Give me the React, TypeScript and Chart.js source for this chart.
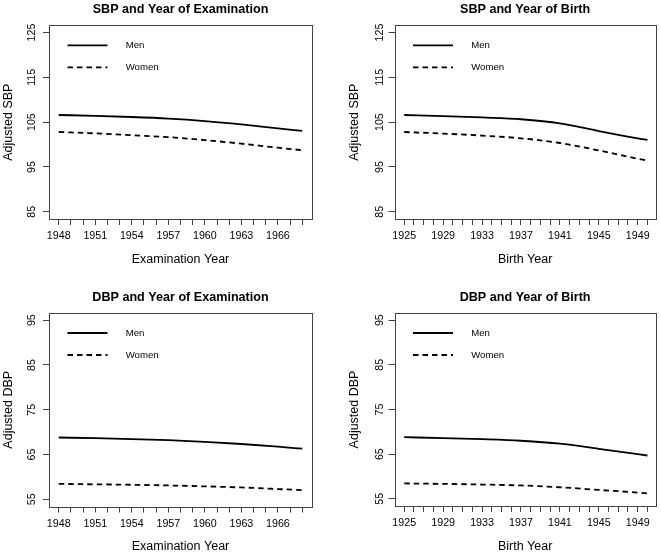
import React, { useEffect, useRef } from "react";
import { Chart, registerables } from "chart.js";

Chart.register(...registerables);

const FONT = "'Liberation Sans', Arial, Helvetica, sans-serif";

// ---- data ----
const examYears = [1948, 1951, 1954, 1957, 1960, 1963, 1966, 1968];
const birthYears = [1925, 1929, 1933, 1937, 1941, 1945, 1949, 1950];

const sbpExamMen = [106.6, 106.4, 106.15, 105.8, 105.25, 104.5, 103.6, 103.05];
const sbpExamWomen = [102.8, 102.5, 102.1, 101.65, 101.0, 100.2, 99.3, 98.75];
const sbpBirthMen = [106.6, 106.35, 106.05, 105.65, 104.75, 103.0, 101.4, 101.05];
const sbpBirthWomen = [102.8, 102.45, 102.0, 101.4, 100.35, 98.7, 96.85, 96.45];
const dbpExamMen = [68.8, 68.65, 68.45, 68.2, 67.85, 67.35, 66.75, 66.3];
const dbpExamWomen = [58.45, 58.35, 58.25, 58.1, 57.9, 57.65, 57.3, 57.05];
const dbpBirthMen = [68.8, 68.6, 68.35, 68.0, 67.35, 66.2, 65.0, 64.7];
const dbpBirthWomen = [58.45, 58.35, 58.2, 58.0, 57.6, 57.0, 56.4, 56.2];

const examTickYears = [1948, 1949, 1950, 1951, 1952, 1953, 1954, 1955, 1956, 1957, 1958, 1959, 1960, 1961, 1962, 1963, 1964, 1965, 1966, 1967, 1968];
const examLabelYears = [1948, 1951, 1954, 1957, 1960, 1963, 1966];
const birthTickYears = [1925, 1926, 1927, 1928, 1929, 1930, 1931, 1932, 1933, 1934, 1935, 1936, 1937, 1938, 1939, 1940, 1941, 1942, 1943, 1944, 1945, 1946, 1947, 1948, 1949, 1950];
const birthLabelYears = [1925, 1929, 1933, 1937, 1941, 1945, 1949];
const sbpTicks = [85, 95, 105, 115, 125];
const dbpTicks = [55, 65, 75, 85, 95];

const seriesLabels = ["Men", "Women"];

type PanelCfg = {
  title: string;
  xTitle: string;
  yTitle: string;
  rect: [number, number, number, number];
  box: [number, number, number, number];
  xRange: [number, number];
  yRange: [number, number];
  xTicks: number[];
  xLabels: number[];
  yTicks: number[];
  xs: number[];
  men: number[];
  women: number[];
  yLabelGap: number;
};

const panels: PanelCfg[] = [
  {
    title: "SBP and Year of Examination", xTitle: "Examination Year", yTitle: "Adjusted SBP",
    rect: [0, 0, 330, 277], box: [49, 25.3, 312, 219],
    xRange: [1947.2, 1968.8], yRange: [83.4, 126.6],
    xTicks: examTickYears, xLabels: examLabelYears, yTicks: sbpTicks,
    xs: examYears, men: sbpExamMen, women: sbpExamWomen, yLabelGap: 17.3,
  },
  {
    title: "SBP and Year of Birth", xTitle: "Birth Year", yTitle: "Adjusted SBP",
    rect: [330, 0, 331, 277], box: [64.5, 25.3, 325.7, 219],
    xRange: [1924.0, 1950.85], yRange: [83.4, 126.6],
    xTicks: birthTickYears, xLabels: birthLabelYears, yTicks: sbpTicks,
    xs: birthYears, men: sbpBirthMen, women: sbpBirthWomen, yLabelGap: 14,
  },
  {
    title: "DBP and Year of Examination", xTitle: "Examination Year", yTitle: "Adjusted DBP",
    rect: [0, 277, 330, 277], box: [49, 36, 312, 229.5],
    xRange: [1947.2, 1968.8], yRange: [53.4, 96.6],
    xTicks: examTickYears, xLabels: examLabelYears, yTicks: dbpTicks,
    xs: examYears, men: dbpExamMen, women: dbpExamWomen, yLabelGap: 17.3,
  },
  {
    title: "DBP and Year of Birth", xTitle: "Birth Year", yTitle: "Adjusted DBP",
    rect: [330, 277, 331, 277], box: [64.5, 36, 325.7, 229],
    xRange: [1924.0, 1950.85], yRange: [53.4, 96.6],
    xTicks: birthTickYears, xLabels: birthLabelYears, yTicks: dbpTicks,
    xs: birthYears, men: dbpBirthMen, women: dbpBirthWomen, yLabelGap: 14,
  },
];

const rStylePlugin = {
  id: "rstyle",
  afterDraw(chart: any, _args: any, opts: any) {
    const { ctx, chartArea: a, scales } = chart;
    ctx.save();
    // box
    ctx.strokeStyle = "#444";
    ctx.lineWidth = 1;
    ctx.setLineDash([]);
    ctx.strokeRect(
      Math.round(a.left) + 0.5,
      Math.round(a.top) + 0.5,
      Math.round(a.right) - Math.round(a.left),
      Math.round(a.bottom) - Math.round(a.top)
    );
    // rotated y tick labels
    const ys = scales.y;
    ctx.fillStyle = "#000";
    ctx.font = `10.7px ${FONT}`;
    ctx.textAlign = "center";
    ctx.textBaseline = "middle";
    for (const t of ys.ticks) {
      const py = ys.getPixelForValue(t.value);
      ctx.save();
      ctx.translate(a.left - opts.yLabelGap, py);
      ctx.rotate(-Math.PI / 2);
      ctx.fillText(String(t.value), 0, 0);
      ctx.restore();
    }
    // legend (top-left, no box)
    chart.data.datasets.forEach((ds: any, i: number) => {
      const ly = a.top + 20 + i * 22;
      ctx.beginPath();
      ctx.setLineDash(ds.borderDash || []);
      ctx.lineWidth = ds.borderWidth;
      ctx.strokeStyle = ds.borderColor;
      ctx.moveTo(a.left + 18.5, ly);
      ctx.lineTo(a.left + 58.5, ly);
      ctx.stroke();
      ctx.setLineDash([]);
      ctx.font = `9.6px ${FONT}`;
      ctx.textAlign = "left";
      ctx.textBaseline = "middle";
      ctx.fillStyle = "#000";
      ctx.fillText(ds.label, a.left + 76.7, ly + 0.5);
    });
    ctx.restore();
  },
};

function Panel({ cfg }: { cfg: PanelCfg }) {
  const ref = useRef<HTMLCanvasElement | null>(null);
  useEffect(() => {
    if (!ref.current) return;
    const [bl, bt, br, bb] = cfg.box;
    const W = cfg.rect[2];
    const H = cfg.rect[3];
    const titleSize = 12.6;
    const titleLH = titleSize * 1.2;
    const titleCenter = bt - 15.8;
    const axisTitleLH = 12.5 * 1.2;
    const gridOpts = { drawOnChartArea: false, drawTicks: true, tickLength: 6, color: "#444", lineWidth: 1 };
    const chart = new Chart(ref.current, {
      type: "line",
      data: {
        datasets: [
          {
            label: seriesLabels[0],
            data: cfg.xs.map((x, i) => ({ x, y: cfg.men[i] })),
            borderColor: "#000",
            borderWidth: 1.8,
            pointRadius: 0,
            fill: false,
            cubicInterpolationMode: "monotone",
          },
          {
            label: seriesLabels[1],
            data: cfg.xs.map((x, i) => ({ x, y: cfg.women[i] })),
            borderColor: "#000",
            borderWidth: 1.8,
            borderDash: [5.5, 4],
            pointRadius: 0,
            fill: false,
            cubicInterpolationMode: "monotone",
          },
        ],
      },
      options: {
        responsive: false,
        animation: false,
        devicePixelRatio: 1,
        layout: { padding: { left: 0, top: 0, right: W - br, bottom: 0 } },
        plugins: {
          legend: { display: false },
          tooltip: { enabled: false },
          title: {
            display: true,
            text: cfg.title,
            fullSize: false,
            color: "#000",
            font: { family: FONT, size: titleSize, weight: "bold", lineHeight: 1.2 },
            padding: { top: titleCenter - titleLH / 2, bottom: bt - titleCenter - titleLH / 2 },
          },
          rstyle: { yLabelGap: cfg.yLabelGap },
        } as any,
        scales: {
          x: {
            type: "linear",
            position: "bottom",
            min: cfg.xRange[0],
            max: cfg.xRange[1],
            afterBuildTicks: (s: any) => {
              s.ticks = cfg.xTicks.map((v) => ({ value: v }));
            },
            afterFit: (s: any) => {
              s.height = H - bb;
            },
            grid: gridOpts,
            border: { display: false },
            ticks: {
              autoSkip: false,
              maxRotation: 0,
              minRotation: 0,
              padding: 4.8,
              color: "#000",
              font: { family: FONT, size: 10.7, lineHeight: 1.2 },
              callback: (v: any) => (cfg.xLabels.includes(Number(v)) ? String(v) : ""),
            },
            title: {
              display: true,
              text: cfg.xTitle,
              color: "#000",
              font: { family: FONT, size: 12.5, lineHeight: 1.2 },
              padding: { top: 0, bottom: Math.max(0, H - axisTitleLH / 2 - (bb + 40.7)) },
            },
          },
          y: {
            type: "linear",
            position: "left",
            min: cfg.yRange[0],
            max: cfg.yRange[1],
            afterBuildTicks: (s: any) => {
              s.ticks = cfg.yTicks.map((v) => ({ value: v }));
            },
            afterFit: (s: any) => {
              s.width = bl;
            },
            grid: gridOpts,
            border: { display: false },
            ticks: { display: false },
            title: {
              display: true,
              text: cfg.yTitle,
              color: "#000",
              font: { family: FONT, size: 12.5, lineHeight: 1.2 },
              padding: { top: bl - 40 - axisTitleLH / 2, bottom: 0 },
            },
          },
        },
      } as any,
      plugins: [rStylePlugin],
    });
    return () => chart.destroy();
  }, [cfg]);
  const [l, t, w, h] = cfg.rect;
  return (
    <canvas
      ref={ref}
      width={w}
      height={h}
      style={{ position: "absolute", left: l, top: t, width: w, height: h }}
    />
  );
}

export default function App() {
  return (
    <div style={{ position: "fixed", left: 0, top: 0, width: 661, height: 554, background: "#fff" }}>
      {panels.map((p, i) => (
        <Panel key={i} cfg={p} />
      ))}
    </div>
  );
}
